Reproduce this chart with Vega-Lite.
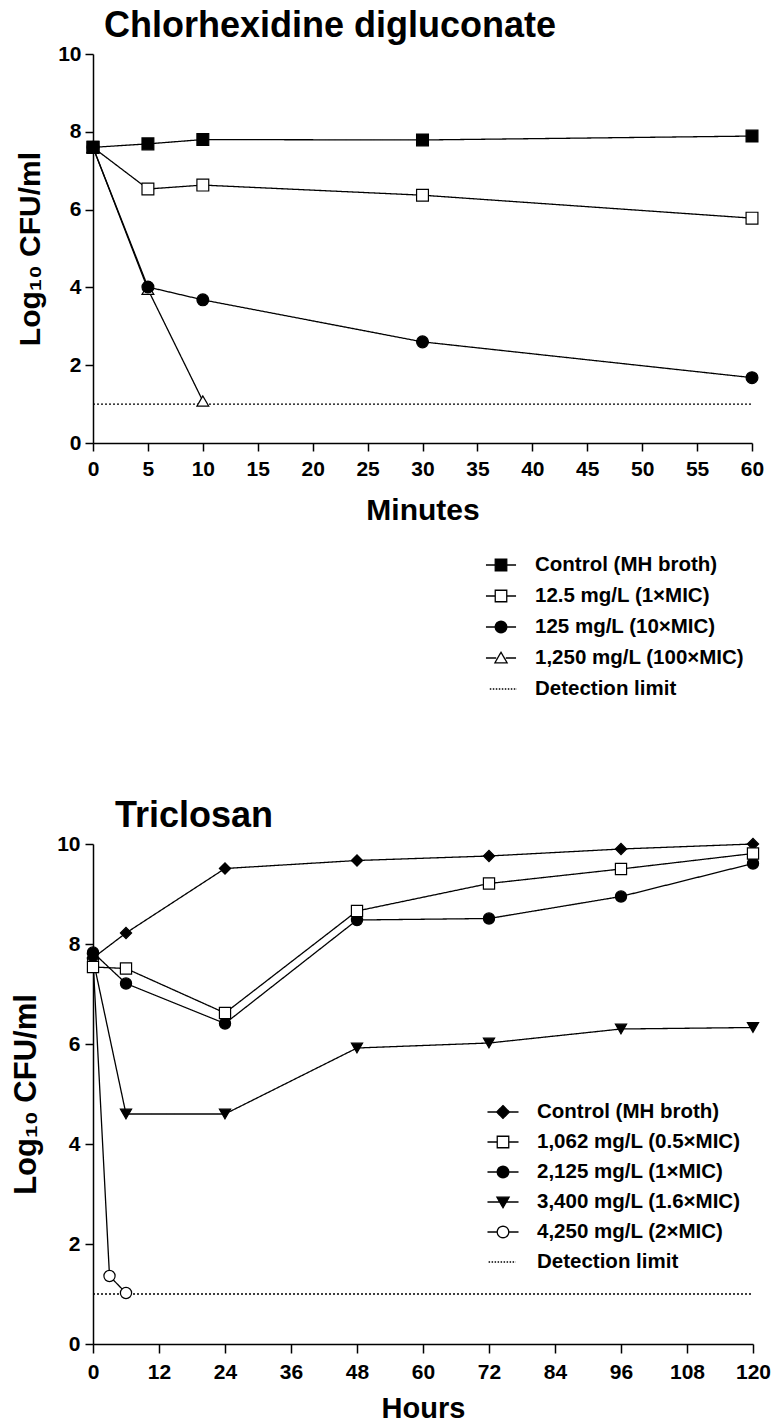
{
  "$schema": "https://vega.github.io/schema/vega-lite/v6.json",
  "background": "white",
  "padding": {"left": 10, "top": 8, "right": 4, "bottom": 4},
  "datasets": {
    "chx": [
      {"s": "1,250 mg/L (100×MIC)", "t": 0, "v": 7.6},
      {"s": "1,250 mg/L (100×MIC)", "t": 5, "v": 3.95},
      {"s": "1,250 mg/L (100×MIC)", "t": 10, "v": 1.08},
      {"s": "125 mg/L (10×MIC)", "t": 0, "v": 7.6},
      {"s": "125 mg/L (10×MIC)", "t": 5, "v": 4.01},
      {"s": "125 mg/L (10×MIC)", "t": 10, "v": 3.68},
      {"s": "125 mg/L (10×MIC)", "t": 30, "v": 2.6},
      {"s": "125 mg/L (10×MIC)", "t": 60, "v": 1.68},
      {"s": "12.5 mg/L (1×MIC)", "t": 0, "v": 7.6},
      {"s": "12.5 mg/L (1×MIC)", "t": 5, "v": 6.53},
      {"s": "12.5 mg/L (1×MIC)", "t": 10, "v": 6.63},
      {"s": "12.5 mg/L (1×MIC)", "t": 30, "v": 6.37},
      {"s": "12.5 mg/L (1×MIC)", "t": 60, "v": 5.78},
      {"s": "Control (MH broth)", "t": 0, "v": 7.6},
      {"s": "Control (MH broth)", "t": 5, "v": 7.69},
      {"s": "Control (MH broth)", "t": 10, "v": 7.8},
      {"s": "Control (MH broth)", "t": 30, "v": 7.79},
      {"s": "Control (MH broth)", "t": 60, "v": 7.89},
      {"s": "Detection limit", "t": 0, "v": 1.0},
      {"s": "Detection limit", "t": 60, "v": 1.0}
    ],
    "tcs": [
      {"s": "4,250 mg/L (2×MIC)", "t": 0, "v": 7.7},
      {"s": "4,250 mg/L (2×MIC)", "t": 3, "v": 1.36},
      {"s": "4,250 mg/L (2×MIC)", "t": 6, "v": 1.02},
      {"s": "3,400 mg/L (1.6×MIC)", "t": 0, "v": 7.7},
      {"s": "3,400 mg/L (1.6×MIC)", "t": 6, "v": 4.6},
      {"s": "3,400 mg/L (1.6×MIC)", "t": 24, "v": 4.6},
      {"s": "3,400 mg/L (1.6×MIC)", "t": 48, "v": 5.92},
      {"s": "3,400 mg/L (1.6×MIC)", "t": 72, "v": 6.02},
      {"s": "3,400 mg/L (1.6×MIC)", "t": 96, "v": 6.3},
      {"s": "3,400 mg/L (1.6×MIC)", "t": 120, "v": 6.33},
      {"s": "Control (MH broth)", "t": 0, "v": 7.72},
      {"s": "Control (MH broth)", "t": 6, "v": 8.22},
      {"s": "Control (MH broth)", "t": 24, "v": 9.51},
      {"s": "Control (MH broth)", "t": 48, "v": 9.67},
      {"s": "Control (MH broth)", "t": 72, "v": 9.76},
      {"s": "Control (MH broth)", "t": 96, "v": 9.9},
      {"s": "Control (MH broth)", "t": 120, "v": 10.0},
      {"s": "2,125 mg/L (1×MIC)", "t": 0, "v": 7.83},
      {"s": "2,125 mg/L (1×MIC)", "t": 6, "v": 7.21},
      {"s": "2,125 mg/L (1×MIC)", "t": 24, "v": 6.41},
      {"s": "2,125 mg/L (1×MIC)", "t": 48, "v": 8.48},
      {"s": "2,125 mg/L (1×MIC)", "t": 72, "v": 8.51},
      {"s": "2,125 mg/L (1×MIC)", "t": 96, "v": 8.95},
      {"s": "2,125 mg/L (1×MIC)", "t": 120, "v": 9.61},
      {"s": "1,062 mg/L (0.5×MIC)", "t": 0, "v": 7.54},
      {"s": "1,062 mg/L (0.5×MIC)", "t": 6, "v": 7.51},
      {"s": "1,062 mg/L (0.5×MIC)", "t": 24, "v": 6.62},
      {"s": "1,062 mg/L (0.5×MIC)", "t": 48, "v": 8.66},
      {"s": "1,062 mg/L (0.5×MIC)", "t": 72, "v": 9.21},
      {"s": "1,062 mg/L (0.5×MIC)", "t": 96, "v": 9.5},
      {"s": "1,062 mg/L (0.5×MIC)", "t": 120, "v": 9.81},
      {"s": "Detection limit", "t": 0, "v": 1.0},
      {"s": "Detection limit", "t": 120, "v": 1.0}
    ]
  },
  "bounds": "flush",
  "spacing": 401,
  "resolve": {"scale": {"shape": "independent", "fill": "independent", "stroke": "independent", "strokeDash": "independent"}},
  "vconcat": [
    {
      "title": {"text": "Chlorhexidine digluconate", "fontSize": 36, "dx": 11, "offset": -2, "frame": "group"},
      "width": 659,
      "height": 389,
      "resolve": {"scale": {"shape": "independent", "fill": "independent", "stroke": "independent", "strokeDash": "independent"}},
      "layer": [
        {
          "data": {"name": "chx"},
          "mark": {"type": "line", "color": "black", "strokeWidth": 1.3},
          "encoding": {
            "x": {"field": "t", "type": "quantitative", "title": "Minutes",
              "scale": {"domain": [0, 60], "nice": false},
              "axis": {"values": [0, 5, 10, 15, 20, 25, 30, 35, 40, 45, 50, 55, 60], "tickSize": 8, "labelPadding": 7, "labelFontSize": 21, "labelFlush": false, "titleFontSize": 30, "titlePadding": 16, "domainWidth": 1.5, "tickWidth": 1.5}},
            "y": {"field": "v", "type": "quantitative", "title": "Log₁₀ CFU/ml",
              "scale": {"domain": [0, 10], "nice": false},
              "axis": {"values": [0, 2, 4, 6, 8, 10], "tickSize": 8, "labelPadding": 4, "labelFontSize": 21, "labelFlush": false, "titleFontSize": 30, "titlePadding": 12, "domainWidth": 1.5, "tickWidth": 1.5}},
            "detail": {"field": "s", "type": "nominal"},
            "strokeDash": {"condition": {"test": "datum.s === 'Detection limit'", "value": [2, 2]}, "value": [1, 0]},
            "strokeWidth": {"condition": {"test": "datum.s === 'Detection limit'", "value": 1}, "value": 1.3}
          }
        },
        {
          "data": {"name": "chx"},
          "transform": [{"filter": "datum.s !== 'Detection limit'"}],
          "mark": {"type": "point", "filled": true, "stroke": "black", "strokeWidth": 1.2, "opacity": 1, "size": 140},
          "encoding": {
            "x": {"field": "t", "type": "quantitative"},
            "y": {"field": "v", "type": "quantitative"},
            "shape": {"field": "s", "type": "nominal", "legend": null,
              "scale": {"domain": ["Control (MH broth)", "12.5 mg/L (1×MIC)", "125 mg/L (10×MIC)", "1,250 mg/L (100×MIC)"], "range": ["square", "square", "circle", "triangle-up"]}},
            "fill": {"field": "s", "type": "nominal", "legend": null,
              "scale": {"domain": ["Control (MH broth)", "12.5 mg/L (1×MIC)", "125 mg/L (10×MIC)", "1,250 mg/L (100×MIC)"], "range": ["black", "white", "black", "white"]}}
          }
        },
        {
          "data": {"name": "chx"},
          "transform": [{"filter": "false"}],
          "mark": {"type": "point", "filled": true, "strokeWidth": 1.3, "opacity": 1, "size": 1024},
          "encoding": {
            "x": {"field": "t", "type": "quantitative"},
            "y": {"field": "v", "type": "quantitative"},
            "shape": {"field": "s", "type": "nominal",
              "scale": {"domain": ["Control (MH broth)", "12.5 mg/L (1×MIC)", "125 mg/L (10×MIC)", "1,250 mg/L (100×MIC)", "Detection limit"],
                "range": [
                  "M-0.94,0H-0.36M0.36,0H0.94M-0.36,-0.36H0.36V0.36H-0.36Z",
                  "M-0.94,0H-0.36M0.36,0H0.94M-0.36,-0.36H0.36V0.36H-0.36Z",
                  "M-0.94,0H-0.36M0.36,0H0.94M0.36,0A0.36,0.36,0,1,1,-0.36,0A0.36,0.36,0,1,1,0.36,0Z",
                  "M-0.94,0H-0.3M0.3,0H0.94M0,-0.36L0.38,0.3L-0.38,0.3Z",
                  "M-0.7,0H1"]},
              "legend": {
                "title": null, "orient": "none", "legendX": 391, "legendY": 494, "padding": 0,
                "symbolSize": 1024, "symbolStrokeWidth": 1.3, "labelOffset": 17, "rowPadding": 3, "labelLimit": 400,
                "labelFont": "Liberation Sans", "labelFontWeight": "bold", "labelFontSize": 20.5, "labelColor": "black"
              }},
            "fill": {"field": "s", "type": "nominal",
              "scale": {"domain": ["Control (MH broth)", "12.5 mg/L (1×MIC)", "125 mg/L (10×MIC)", "1,250 mg/L (100×MIC)", "Detection limit"], "range": ["black", "white", "black", "white", "white"]}},
            "stroke": {"field": "s", "type": "nominal",
              "scale": {"domain": ["Control (MH broth)", "12.5 mg/L (1×MIC)", "125 mg/L (10×MIC)", "1,250 mg/L (100×MIC)", "Detection limit"], "range": ["black", "black", "black", "black", "black"]}},
            "strokeDash": {"field": "s", "type": "nominal",
              "scale": {"domain": ["Control (MH broth)", "12.5 mg/L (1×MIC)", "125 mg/L (10×MIC)", "1,250 mg/L (100×MIC)", "Detection limit"], "range": [[1, 0], [1, 0], [1, 0], [1, 0], [1.5, 1.5]]}}
          }
        }
      ]
    },
    {
      "title": {"text": "Triclosan", "fontSize": 36, "dx": 22, "offset": -2, "frame": "group"},
      "width": 660,
      "height": 500,
      "resolve": {"scale": {"shape": "independent", "fill": "independent", "stroke": "independent", "strokeDash": "independent"}},
      "layer": [
        {
          "data": {"name": "tcs"},
          "mark": {"type": "line", "color": "black", "strokeWidth": 1.3},
          "encoding": {
            "x": {"field": "t", "type": "quantitative", "title": "Hours",
              "scale": {"domain": [0, 120], "nice": false},
              "axis": {"values": [0, 12, 24, 36, 48, 60, 72, 84, 96, 108, 120], "tickSize": 9, "labelPadding": 8, "labelFontSize": 21, "labelFlush": false, "titleFontSize": 29, "titlePadding": 12, "domainWidth": 1.5, "tickWidth": 1.5}},
            "y": {"field": "v", "type": "quantitative", "title": "Log₁₀ CFU/ml",
              "scale": {"domain": [0, 10], "nice": false},
              "axis": {"values": [0, 2, 4, 6, 8, 10], "tickSize": 8, "labelPadding": 5, "labelFontSize": 21, "labelFlush": false, "titleFontSize": 31, "titlePadding": 14, "domainWidth": 1.5, "tickWidth": 1.5}},
            "detail": {"field": "s", "type": "nominal"},
            "strokeDash": {"condition": {"test": "datum.s === 'Detection limit'", "value": [2, 2]}, "value": [1, 0]},
            "strokeWidth": {"condition": {"test": "datum.s === 'Detection limit'", "value": 1}, "value": 1.3}
          }
        },
        {
          "data": {"name": "tcs"},
          "transform": [{"filter": "datum.s !== 'Detection limit'"}],
          "mark": {"type": "point", "filled": true, "stroke": "black", "strokeWidth": 1.2, "opacity": 1, "size": 125},
          "encoding": {
            "x": {"field": "t", "type": "quantitative"},
            "y": {"field": "v", "type": "quantitative"},
            "shape": {"field": "s", "type": "nominal", "legend": null,
              "scale": {"domain": ["Control (MH broth)", "1,062 mg/L (0.5×MIC)", "2,125 mg/L (1×MIC)", "3,400 mg/L (1.6×MIC)", "4,250 mg/L (2×MIC)"], "range": ["diamond", "square", "circle", "triangle-down", "circle"]}},
            "fill": {"field": "s", "type": "nominal", "legend": null,
              "scale": {"domain": ["Control (MH broth)", "1,062 mg/L (0.5×MIC)", "2,125 mg/L (1×MIC)", "3,400 mg/L (1.6×MIC)", "4,250 mg/L (2×MIC)"], "range": ["black", "white", "black", "black", "white"]}}
          }
        },
        {
          "data": {"name": "tcs"},
          "transform": [{"filter": "false"}],
          "mark": {"type": "point", "filled": true, "strokeWidth": 1.3, "opacity": 1, "size": 1024},
          "encoding": {
            "x": {"field": "t", "type": "quantitative"},
            "y": {"field": "v", "type": "quantitative"},
            "shape": {"field": "s", "type": "nominal",
              "scale": {"domain": ["Control (MH broth)", "1,062 mg/L (0.5×MIC)", "2,125 mg/L (1×MIC)", "3,400 mg/L (1.6×MIC)", "4,250 mg/L (2×MIC)", "Detection limit"],
                "range": [
                  "M-0.97,0H-0.4M0.4,0H0.97M0,-0.4L0.4,0L0,0.4L-0.4,0Z",
                  "M-0.97,0H-0.36M0.36,0H0.97M-0.36,-0.36H0.36V0.36H-0.36Z",
                  "M-0.97,0H-0.36M0.36,0H0.97M0.36,0A0.36,0.36,0,1,1,-0.36,0A0.36,0.36,0,1,1,0.36,0Z",
                  "M-0.97,0H0.97M0,0.36L0.38,-0.3L-0.38,-0.3Z",
                  "M-0.97,0H-0.36M0.36,0H0.97M0.36,0A0.36,0.36,0,1,1,-0.36,0A0.36,0.36,0,1,1,0.36,0Z",
                  "M-0.9,0H0.8"]},
              "legend": {
                "title": null, "orient": "none", "legendX": 393, "legendY": 251, "padding": 0,
                "symbolSize": 1024, "symbolStrokeWidth": 1.3, "labelOffset": 17, "rowPadding": 2, "labelLimit": 400,
                "labelFont": "Liberation Sans", "labelFontWeight": "bold", "labelFontSize": 20.5, "labelColor": "black"
              }},
            "fill": {"field": "s", "type": "nominal",
              "scale": {"domain": ["Control (MH broth)", "1,062 mg/L (0.5×MIC)", "2,125 mg/L (1×MIC)", "3,400 mg/L (1.6×MIC)", "4,250 mg/L (2×MIC)", "Detection limit"], "range": ["black", "white", "black", "black", "white", "white"]}},
            "stroke": {"field": "s", "type": "nominal",
              "scale": {"domain": ["Control (MH broth)", "1,062 mg/L (0.5×MIC)", "2,125 mg/L (1×MIC)", "3,400 mg/L (1.6×MIC)", "4,250 mg/L (2×MIC)", "Detection limit"], "range": ["black", "black", "black", "black", "black", "black"]}},
            "strokeDash": {"field": "s", "type": "nominal",
              "scale": {"domain": ["Control (MH broth)", "1,062 mg/L (0.5×MIC)", "2,125 mg/L (1×MIC)", "3,400 mg/L (1.6×MIC)", "4,250 mg/L (2×MIC)", "Detection limit"], "range": [[1, 0], [1, 0], [1, 0], [1, 0], [1, 0], [1.5, 1.5]]}}
          }
        }
      ]
    }
  ],
  "config": {
    "view": {"stroke": null},
    "font": "Liberation Sans",
    "axis": {"grid": false, "labelFont": "Liberation Sans", "labelFontWeight": "bold", "labelColor": "black", "titleFont": "Liberation Sans", "titleColor": "black", "titleFontWeight": "bold", "domainColor": "black", "tickColor": "black"},
    "legend": {"labelFont": "Liberation Sans", "labelFontWeight": "bold", "labelColor": "black", "padding": 0},
    "title": {"font": "Liberation Sans", "fontWeight": "bold", "color": "black", "anchor": "start"}
  }
}
